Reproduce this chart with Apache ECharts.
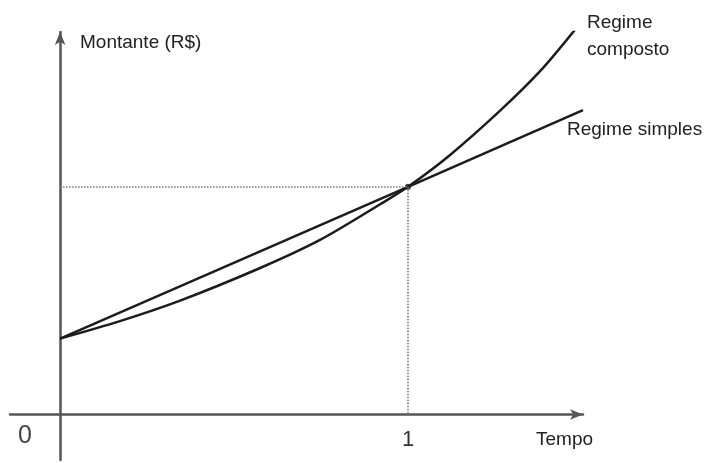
<!DOCTYPE html>
<html>
<head>
<meta charset="utf-8">
<script src="https://cdn.jsdelivr.net/npm/echarts@6/dist/echarts.min.js"></script>
<style>
  html, body { margin: 0; padding: 0; background: #fff; }
  #chart { width: 713px; height: 463px; }
</style>
</head>
<body>
<div id="chart"></div>
<script>
// tempo (t) e montante, capital inicial = 1
var simplesPontos = [[0, 1], [1, 3], [1.503, 4.01]];
var compostoPontos = [
  [0, 1], [0.172, 1.23], [0.345, 1.50], [0.575, 1.93], [0.747, 2.30],
  [0.92, 2.77], [1, 3], [1.121, 3.42], [1.264, 4.0], [1.379, 4.52], [1.48, 5.07]
];
var rotuloX = '1';
var encontro = [1, 3];

var chart = echarts.init(document.getElementById('chart'));
var fonte = '"Liberation Sans", Arial, sans-serif';

var option = {
  animation: false,
  backgroundColor: '#fff',
  grid: { left: 10, right: 130, top: 32, bottom: 3, outerBoundsMode: 'none', containLabel: false },
  xAxis: {
    type: 'value',
    min: -0.144,
    max: 1.503,
    splitLine: { show: false },
    axisTick: { show: false },
    axisLabel: { show: false },
    axisLine: {
      show: true,
      symbol: ['none', 'arrow'],
      symbolSize: [8, 13],
      lineStyle: { color: '#555', width: 2.5 }
    }
  },
  yAxis: {
    type: 'value',
    min: -0.6,
    max: 5.04,
    splitLine: { show: false },
    axisTick: { show: false },
    axisLabel: { show: false },
    axisLine: {
      show: true,
      symbol: ['none', 'arrow'],
      symbolSize: [8, 13],
      lineStyle: { color: '#555', width: 2.5 }
    }
  },
  series: [
    {
      name: 'Regime simples',
      type: 'line',
      data: simplesPontos,
      showSymbol: false,
      lineStyle: { color: '#1c1c1c', width: 2.5 },
      endLabel: {
        show: true,
        formatter: 'Regime simples',
        fontSize: 19,
        color: '#222',
        fontFamily: fonte,
        offset: [-24, 20]
      },
      markLine: {
        silent: true,
        symbol: 'none',
        label: { show: false },
        lineStyle: { color: '#777', type: 'dotted', width: 1.5 },
        data: [
          [{ coord: [0, encontro[1]] }, { coord: encontro }],
          [
            { coord: encontro },
            {
              coord: [encontro[0], 0],
              label: {
                show: true,
                position: 'end',
                formatter: rotuloX,
                distance: 14,
                fontSize: 22,
                color: '#333',
                fontFamily: fonte
              }
            }
          ]
        ]
      }
    },
    {
      name: 'Regime composto',
      type: 'line',
      data: compostoPontos,
      smooth: 0.3,
      showSymbol: false,
      lineStyle: { color: '#1c1c1c', width: 2.5 },
      endLabel: {
        show: true,
        formatter: 'Regime\ncomposto',
        fontSize: 19,
        lineHeight: 27,
        color: '#222',
        fontFamily: fonte,
        align: 'left',
        offset: [4, 7]
      }
    },
    {
      type: 'scatter',
      data: [encontro],
      symbolSize: 6,
      itemStyle: { color: '#111' },
      silent: true
    }
  ],
  graphic: [
    {
      type: 'text', left: 18, top: 424,
      style: { text: '0', fontSize: 25, fill: '#444', fontFamily: fonte }
    },
    {
      type: 'text', left: 536, top: 430,
      style: { text: 'Tempo', fontSize: 19, fill: '#222', fontFamily: fonte }
    },
    {
      type: 'text', left: 80, top: 33,
      style: { text: 'Montante (R$)', fontSize: 19, fill: '#222', fontFamily: fonte }
    }
  ]
};

chart.setOption(option);
</script>
</body>
</html>
